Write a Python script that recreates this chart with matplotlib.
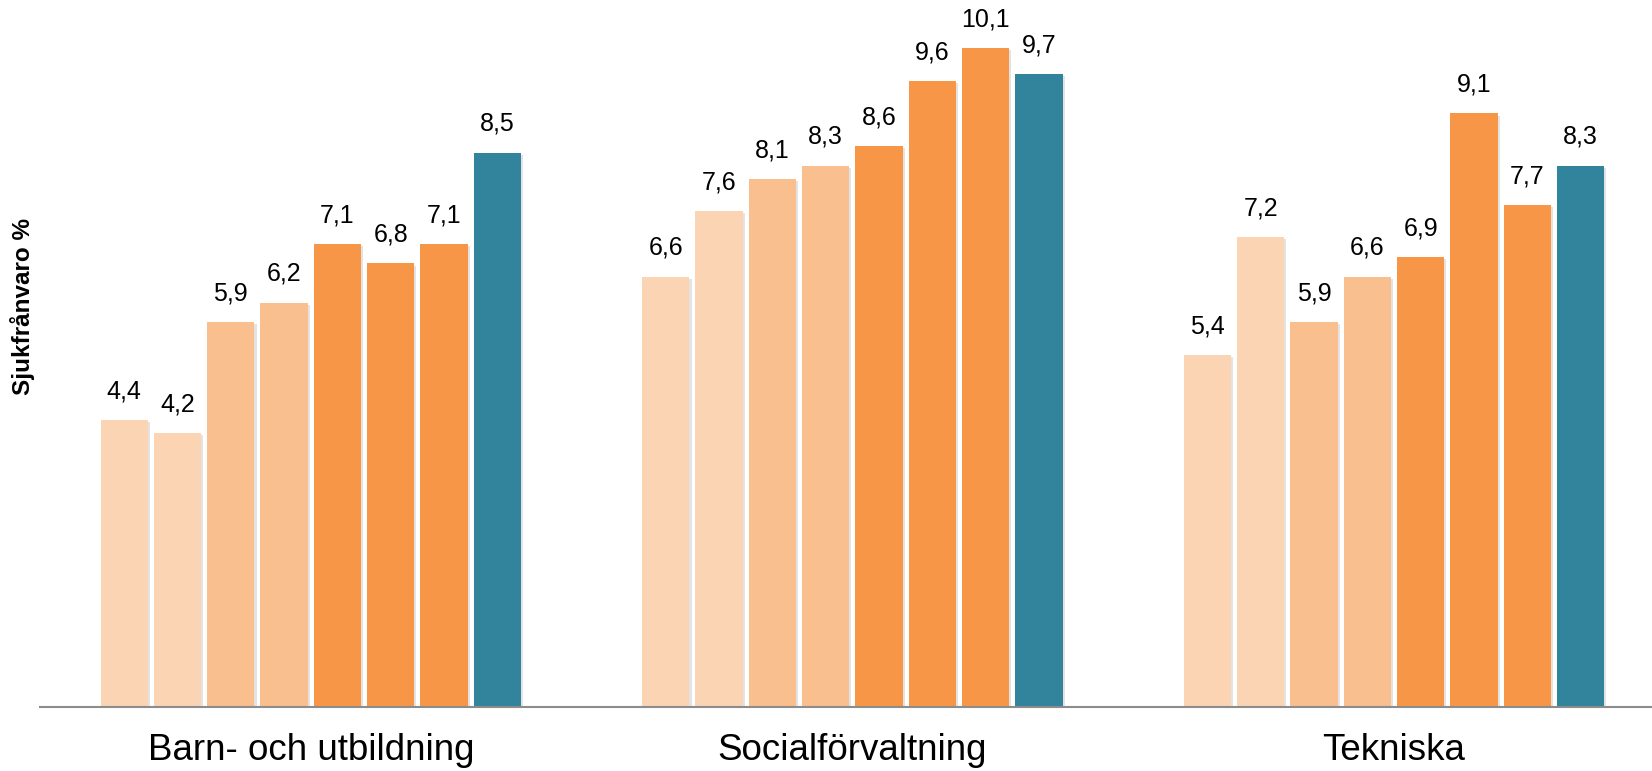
import numpy as np
import matplotlib
matplotlib.use('Agg')
import matplotlib.pyplot as plt
import matplotlib.patheffects as pe

plt.rcParams['font.family'] = ['Liberation Sans', 'DejaVu Sans']

# data
categories = ['Barn- och utbildning', 'Socialförvaltning', 'Tekniska']
values = [
    [4.4, 4.2, 5.9, 6.2, 7.1, 6.8, 7.1, 8.5],
    [6.6, 7.6, 8.1, 8.3, 8.6, 9.6, 10.1, 9.7],
    [5.4, 7.2, 5.9, 6.6, 6.9, 9.1, 7.7, 8.3],
]
bar_colors = ['#FBD4B4', '#FBD4B4', '#F9BF8F', '#F9BF8F',
              '#F79646', '#F79646', '#F79646', '#31849B']
ylabel = 'Sjukfrånvaro %'

group_gap = 10.16
n = len(bar_colors)

fig = plt.figure(figsize=(16.52, 7.71), dpi=100)
ax = fig.add_axes([0.0242, 0.083, 0.9758, 0.917])

shadow = [pe.SimplePatchShadow(offset=(1.5, -1.5), shadow_rgbFace='#c8c8c8', alpha=0.5), pe.Normal()]

centers = np.arange(len(categories)) * group_gap
for g, vals in enumerate(values):
    xs = centers[g] + np.arange(n) - (n - 1) / 2
    bars = ax.bar(xs, vals, width=0.887, color=bar_colors, zorder=2)
    for b in bars:
        b.set_path_effects(shadow)
    for x, v in zip(xs, vals):
        ax.annotate(f'{v:.1f}'.replace('.', ','), (x, v), xytext=(0, 12),
                    textcoords='offset points', ha='center', va='bottom', fontsize=18)

ax.set_xlim(-5.08, 25.16)
ax.set_ylim(0, 10.84)
ax.set_xticks(centers)
ax.set_xticklabels(categories, fontsize=26.5)
ax.tick_params(axis='x', length=0, pad=19)
ax.set_yticks([])
for s in ['top', 'right', 'left']:
    ax.spines[s].set_visible(False)
ax.spines['bottom'].set_color('#8c8c8c')
ax.spines['bottom'].set_linewidth(1.5)
ax.spines['bottom'].set_zorder(3)

fig.text(0.0135, 0.602, ylabel, rotation=90, fontsize=17.5, fontweight='bold',
         ha='center', va='center')

fig.savefig('out.png', dpi=100)
plt.close(fig)
